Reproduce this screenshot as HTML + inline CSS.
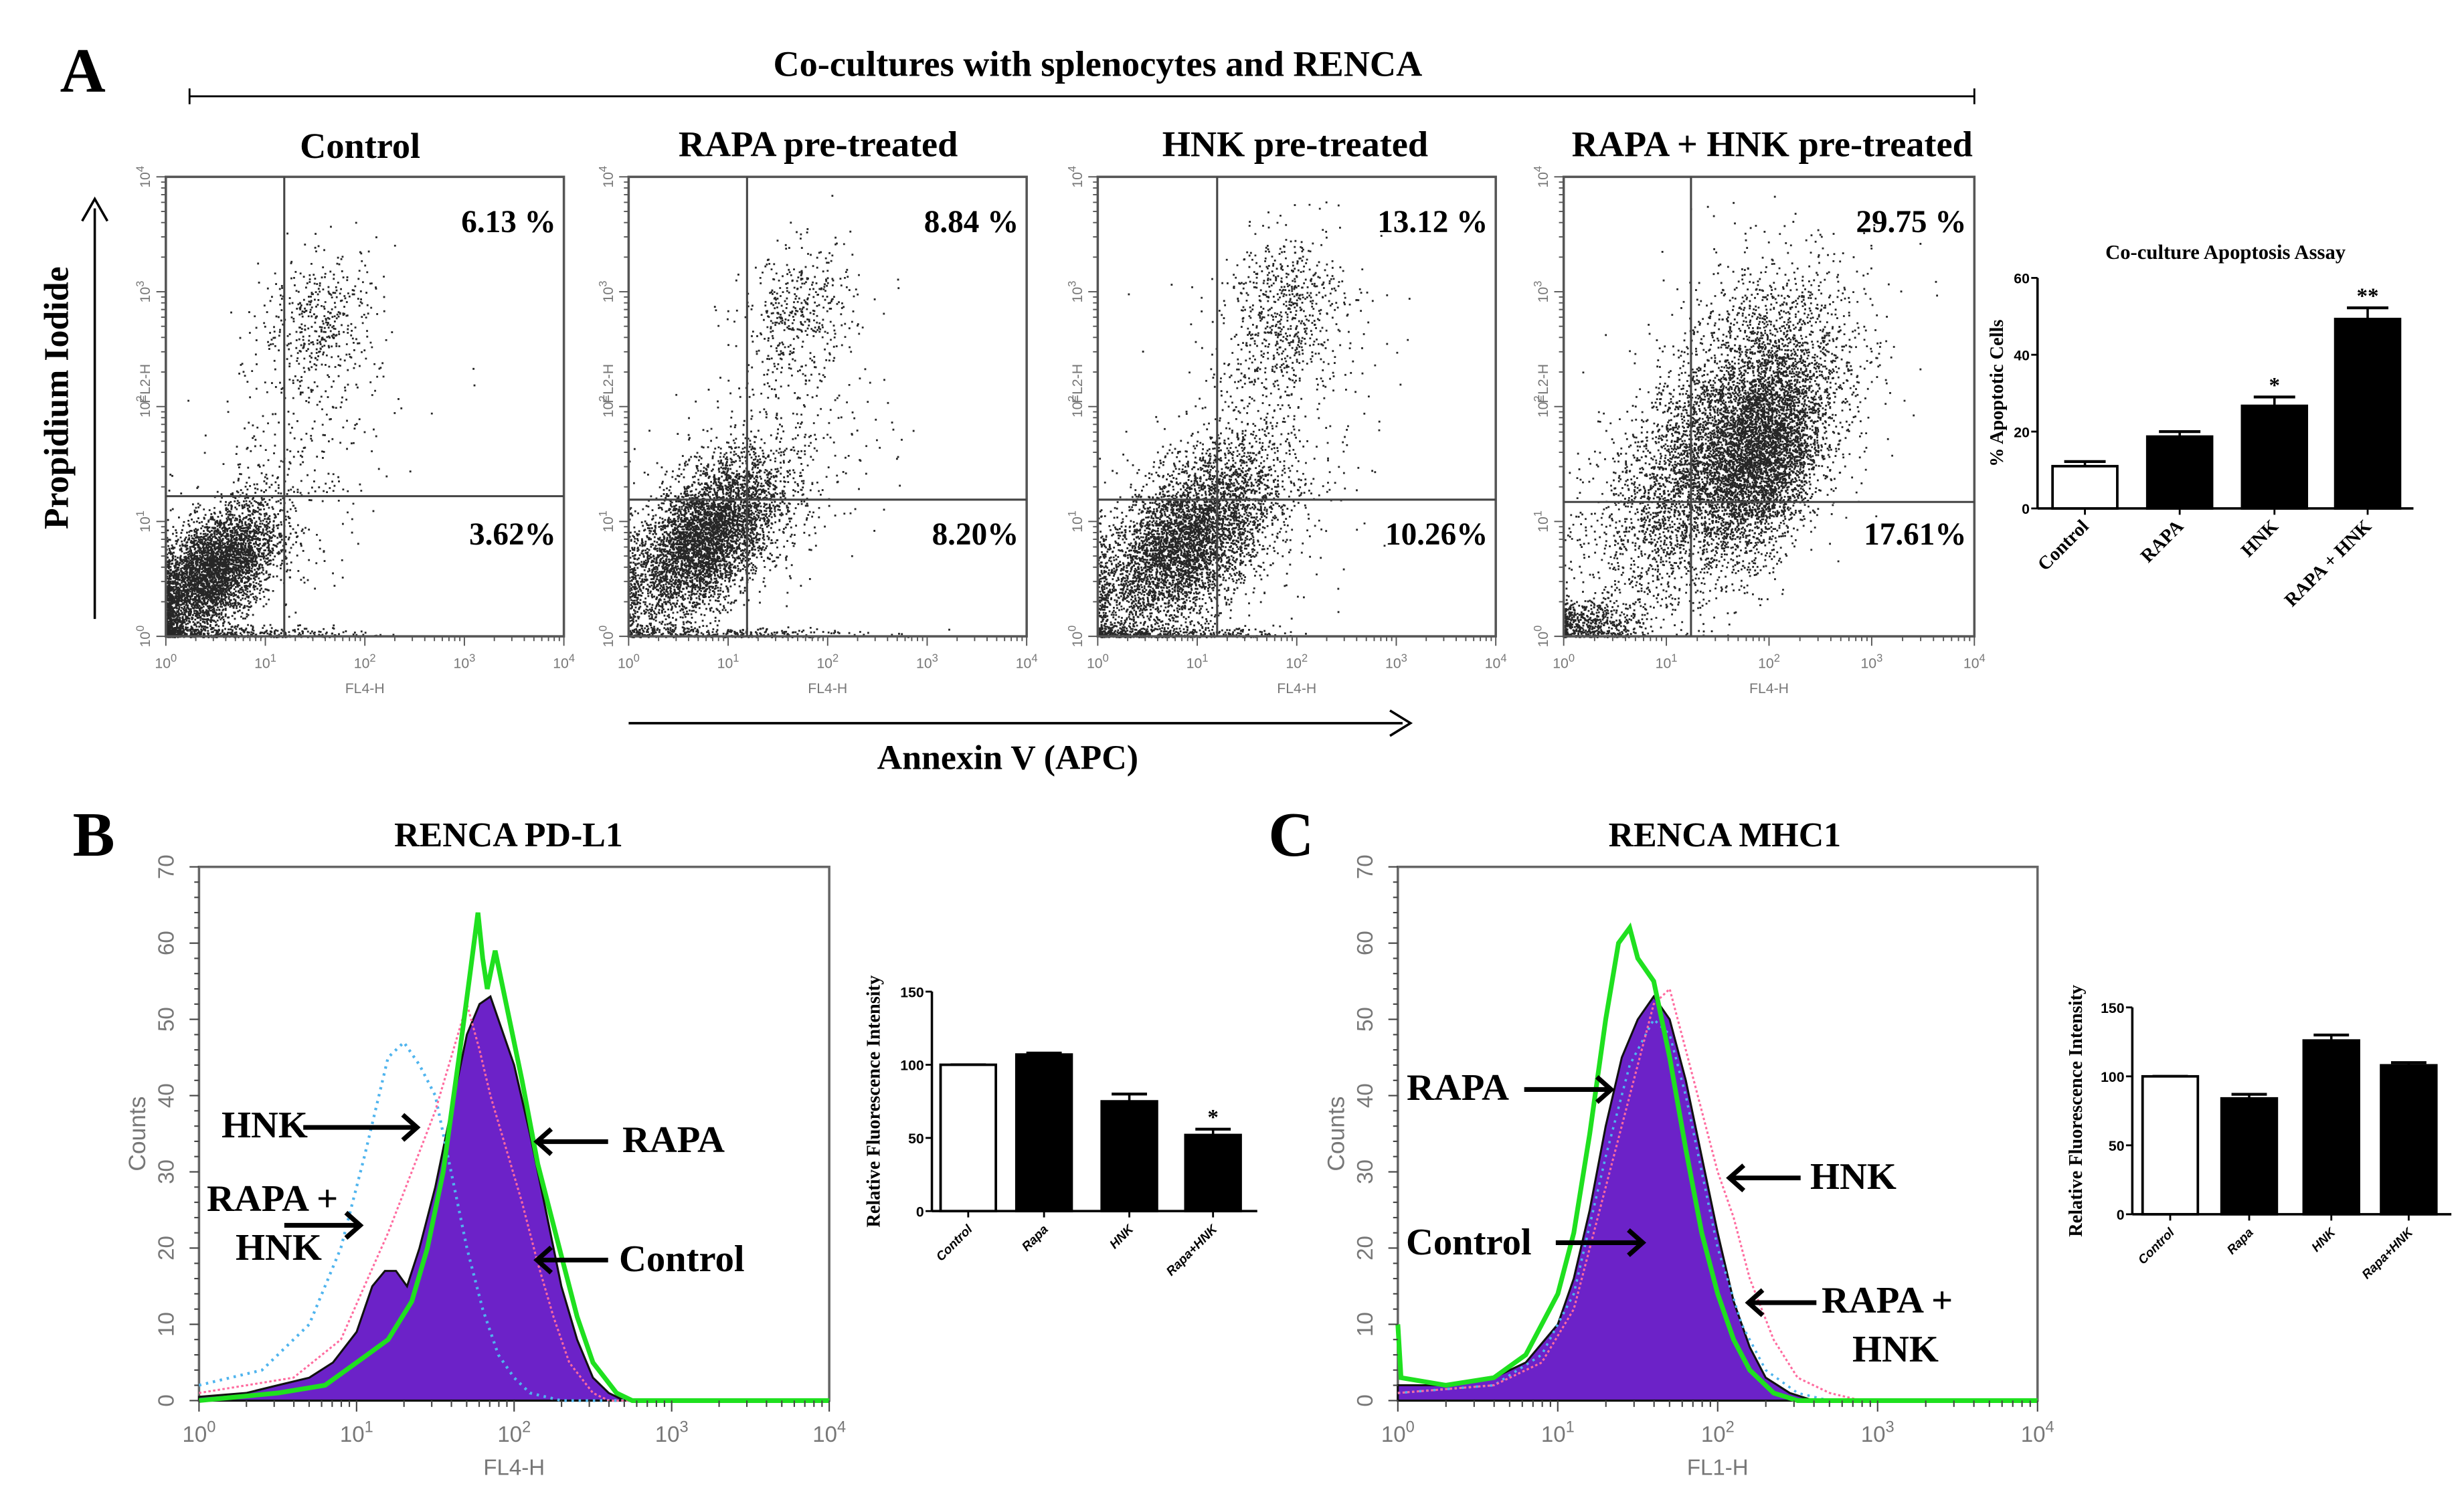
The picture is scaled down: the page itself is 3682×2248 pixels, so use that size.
<!DOCTYPE html>
<html><head><meta charset="utf-8">
<style>
html,body{margin:0;padding:0;background:#fff;}
svg{display:block;}
.serif{font-family:"Liberation Serif",serif;font-weight:bold;}
.sans{font-family:"Liberation Sans",sans-serif;}
.gray{fill:#777;}
</style></head>
<body>
<svg id="fig" width="3682" height="2248" viewBox="0 0 1560 952.5" preserveAspectRatio="none" xmlns="http://www.w3.org/2000/svg">
<rect width="1560" height="952.5" fill="#fff"/>
<text class="serif" x="38" y="58" font-size="40">A</text>
<text class="serif" x="695" y="48" font-size="23" text-anchor="middle">Co-cultures with splenocytes and RENCA</text>
<g stroke="#000" stroke-width="1.2">
<line x1="120" y1="61" x2="1250" y2="61"/><line x1="120" y1="56" x2="120" y2="66"/><line x1="1250" y1="56" x2="1250" y2="66"/>
</g>
<text class="serif" x="228" y="100" font-size="23" text-anchor="middle">Control</text>
<text class="serif" x="518" y="99" font-size="23" text-anchor="middle">RAPA pre-treated</text>
<text class="serif" x="820" y="99" font-size="23" text-anchor="middle">HNK pre-treated</text>
<text class="serif" x="1122" y="99" font-size="23" text-anchor="middle">RAPA + HNK pre-treated</text>
<text class="serif" x="43" y="252" font-size="22" text-anchor="middle" transform="rotate(-90 43 252)">Propidium Iodide</text>
<g><line x1="60" y1="392" x2="60" y2="132" stroke="#000" stroke-width="1.5"/><path d="M52 140 L60 126 L68 140" fill="none" stroke="#000" stroke-width="1.5"/></g>
<g><line x1="398" y1="458" x2="888" y2="458" stroke="#000" stroke-width="1.5"/><path d="M880 450 L893 458 L880 466" fill="none" stroke="#000" stroke-width="1.5"/></g>
<text class="serif" x="638" y="487" font-size="22" text-anchor="middle">Annexin V (APC)</text>
<g id="dotplots"></g>
<g id="barA"></g>
<text class="serif" x="46" y="542" font-size="40">B</text>
<text class="serif" x="322" y="536" font-size="22" text-anchor="middle">RENCA PD-L1</text>
<g id="histB"></g>
<g id="barB"></g>
<text class="serif" x="803" y="542" font-size="40">C</text>
<text class="serif" x="1092" y="536" font-size="22" text-anchor="middle">RENCA MHC1</text>
<g id="histC"></g>
<g id="barC"></g>
</svg>
<script>
// ===== Data =====
const dotPanels = ["control","rapa","hnk","rapa-hnk"];
const dotFrameX = [105, 398, 695, 990];
const dotQuadX = [1.19, 1.19, 1.2, 1.24];
const dotQuadY = [1.22, 1.19, 1.19, 1.17];
const dotUpperPct = ["6.13 %","8.84 %","13.12 %","29.75 %"];
const dotLowerPct = ["3.62%","8.20%","10.26%","17.61%"];
// clusters: [cx, cy, sx, sy, n, rho] in log10 units
const clustersControl = [[0.45,0.55,0.33,0.3,4200,0.55],[1.55,2.75,0.3,0.3,420,0.2],[1.3,1.5,0.5,0.6,300,0.3],[0.8,0.03,0.6,0.03,300,0]];
const clustersRapa = [[0.75,0.85,0.38,0.36,4600,0.55],[1.7,2.8,0.28,0.3,420,0.2],[1.5,1.5,0.55,0.6,350,0.3],[0.9,0.03,0.7,0.03,250,0]];
const clustersHnk = [[0.85,0.8,0.45,0.4,4600,0.55],[1.85,2.85,0.3,0.35,600,0.2],[1.6,1.6,0.55,0.7,550,0.4],[0.6,0.03,0.6,0.03,300,0]];
const clustersRapaHnk = [[1.55,1.6,0.58,0.62,5000,0.6],[1.95,1.55,0.28,0.42,2600,0.3],[0.25,0.12,0.25,0.1,500,0],[1.9,2.6,0.45,0.45,500,0.2]];
const allClusters = [clustersControl, clustersRapa, clustersHnk, clustersRapaHnk];

const barACats = ["Control","RAPA","HNK","RAPA + HNK"];
const barAVals = [11, 18.7, 26.7, 49.3];
const barAErr = [12.2, 20.0, 29.0, 52.2];
const barAStars = ["","","*","**"];
const barATicks = [0,20,40,60];

const barBCats = ["Control","Rapa","HNK","Rapa+HNK"];
const barBVals = [100, 107, 75, 52];
const barBErr = [100, 108, 80, 56];
const barBStars = ["","","","*"];
const barCCats = ["Control","Rapa","HNK","Rapa+HNK"];
const barCVals = [100, 84, 126, 108];
const barCErr = [100, 87, 130, 110];
const barTicks150 = [0,50,100,150];

const histTicksY = [0,10,20,30,40,50,60,70];
const histBControl = [[0,0.5],[0.3,1],[0.5,2],[0.7,3],[0.85,5],[1.0,9],[1.1,15],[1.18,17],[1.25,17],[1.32,15],[1.4,20],[1.5,28],[1.6,38],[1.7,48],[1.78,52],[1.85,53],[1.9,50],[2.0,44],[2.1,35],[2.2,25],[2.3,15],[2.4,8],[2.5,3],[2.6,1],[2.7,0],[4,0]];
const histBRapa = [[0,0],[0.5,1],[0.8,2],[1.0,5],[1.2,8],[1.35,13],[1.45,20],[1.55,30],[1.65,45],[1.72,56],[1.77,64],[1.8,58],[1.83,54],[1.88,59],[1.95,52],[2.05,42],[2.15,31],[2.3,19],[2.4,11],[2.5,5],[2.65,1],[2.75,0],[4,0]];
const histBHnk = [[0,1],[0.6,3],[0.9,8],[1.05,15],[1.2,22],[1.35,30],[1.5,38],[1.6,45],[1.7,52],[1.78,46],[1.85,40],[1.95,33],[2.05,26],[2.15,18],[2.25,11],[2.35,5],[2.5,1],[2.6,0],[4,0]];
const histBRapaHnk = [[0,2],[0.4,4],[0.7,10],[0.9,20],[1.05,32],[1.2,45],[1.3,47],[1.4,44],[1.5,40],[1.6,30],[1.7,20],[1.8,12],[1.9,6],[2.0,3],[2.1,1],[2.3,0],[4,0]];
const histCControl = [[0,2],[0.3,2],[0.6,3],[0.8,5],[1.0,10],[1.1,16],[1.2,25],[1.3,36],[1.4,45],[1.5,50],[1.6,53],[1.7,50],[1.8,42],[1.9,32],[2.0,22],[2.1,13],[2.2,7],[2.3,3],[2.45,1],[2.6,0],[4,0]];
const histCRapa = [[0,10],[0.02,3],[0.3,2],[0.6,3],[0.8,6],[1.0,14],[1.1,22],[1.2,35],[1.3,50],[1.38,60],[1.45,62],[1.5,58],[1.6,55],[1.7,45],[1.8,33],[1.9,22],[2.0,14],[2.1,8],[2.2,4],[2.35,1],[2.5,0],[4,0]];
const histCHnk = [[0,1],[0.6,2],[0.9,5],[1.1,12],[1.3,28],[1.45,40],[1.6,52],[1.7,54],[1.8,46],[1.9,38],[2.0,30],[2.1,24],[2.2,16],[2.35,8],[2.5,3],[2.7,1],[2.9,0],[4,0]];
const histCRapaHnk = [[0,1],[0.6,2],[0.9,6],[1.1,14],[1.3,32],[1.45,44],[1.6,50],[1.7,48],[1.8,40],[1.9,30],[2.0,20],[2.15,10],[2.3,4],[2.5,1],[2.7,0],[4,0]];

// ===== Helpers =====
const NS = "http://www.w3.org/2000/svg";
function mk(parent, tag, attrs){const e=document.createElementNS(NS,tag);for(const k in attrs)e.setAttribute(k,attrs[k]);parent.appendChild(e);return e;}
let seed = 12345;
function rnd(){seed=(seed*1103515245+12345)%2147483648;return seed/2147483648;}
function gauss(){let u=rnd()||1e-9,v=rnd();return Math.sqrt(-2*Math.log(u))*Math.cos(2*Math.PI*v);}

// ===== Dot plots =====
const dp = document.getElementById('dotplots');
dotPanels.forEach((name,i)=>{
  const x0=dotFrameX[i], y0=112, w=(i==3?260:252), h=291;
  const xs=v=>x0+v/4*w, ys=v=>y0+h-v/4*h;
  const g=mk(dp,'g',{});
  
  
  const pts=mk(g,'g',{fill:'#000'});
  
  
  let d='';
  allClusters[i].forEach(c=>{
    for(let k=0;k<c[4];k++){
      const a=gauss(),b=gauss();
      let lx=c[0]+c[2]*a, ly=c[1]+c[3]*(c[5]*a+Math.sqrt(1-c[5]*c[5])*b);
      if(lx<0)lx=Math.abs(lx)*0.3; if(ly<0)ly=Math.abs(ly)*0.3;
      if(lx>4||ly>4)continue;
      const px=xs(lx),py=ys(ly);
      d+=`M${px.toFixed(1)} ${py.toFixed(1)}h1.2v1.2h-1.2z`;
    }
  });
  mk(pts,'path',{d:d,fill:'#000','fill-opacity':'0.85'});
  const fr=mk(g,'rect',{x:x0,y:y0,width:w,height:h,fill:'none',stroke:'#555','stroke-width':1.5});
  
  
  mk(g,'line',{x1:xs(dotQuadX[i]),y1:y0,x2:xs(dotQuadX[i]),y2:y0+h,stroke:'#444','stroke-width':1.3});
  mk(g,'line',{x1:x0,y1:ys(dotQuadY[i]),x2:x0+w,y2:ys(dotQuadY[i]),stroke:'#444','stroke-width':1.3});
  let td='';
  for(let dec=0;dec<4;dec++)for(let m=1;m<=10;m++){const v=dec+Math.log10(m);const L=(m==1||m==10)?6:3;
    td+=`M${xs(v)} ${y0+h}v${L}M${x0} ${ys(v)}h${-L}`;}
  mk(g,'path',{d:td,stroke:'#555','stroke-width':0.8,fill:'none'});
  for(let dec=0;dec<=4;dec++){
    const t=mk(g,'text',{x:xs(dec),y:y0+h+20,'font-size':9,'text-anchor':'middle',class:'sans gray'});
    t.textContent='10';const s=mk(t,'tspan',{dy:-4,'font-size':7});s.textContent=dec;
    const ty=ys(dec), tx=x0-10;
    const t2=mk(g,'text',{x:tx,y:ty,'font-size':9,'text-anchor':'middle',class:'sans gray',transform:`rotate(-90 ${tx} ${ty})`});
    t2.textContent='10';const s2=mk(t2,'tspan',{dy:-4,'font-size':7});s2.textContent=dec;
  }
  const fx=mk(g,'text',{x:xs(2),y:y0+h+36,'font-size':9,'text-anchor':'middle',class:'sans gray'});fx.textContent='FL4-H';
  const fy=mk(g,'text',{x:x0-10,y:ys(2.2),'font-size':9,'text-anchor':'middle',class:'sans gray',transform:`rotate(-90 ${x0-10} ${ys(2.2)})`});fy.textContent='FL2-H';
  const up=mk(g,'text',{x:x0+w-5,y:y0+35,'font-size':20,'text-anchor':'end',class:'serif'});up.textContent=dotUpperPct[i];
  
  
  const lo=mk(g,'text',{x:x0+w-5,y:y0+233,'font-size':20,'text-anchor':'end',class:'serif'});lo.textContent=dotLowerPct[i];
  
  
});

// ===== Bar charts =====
function barChart(gid, cats, vals, errs, stars, ticks, ax, x1, y0, yTop, ymax, bw, centers, title, ylabel, ylx, italic, labFont){
  const g=document.getElementById(gid);
  const ys=v=>y0-(v/ymax)*(y0-yTop);
  if(title){const t=mk(g,'text',{x:(ax+x1)/2,y:yTop-12,'font-size':13,'text-anchor':'middle',class:'serif'});t.textContent=title;
    }
  const yl=mk(g,'text',{x:ylx,y:(y0+yTop)/2,'font-size':labFont,'text-anchor':'middle',class:'serif',transform:`rotate(-90 ${ylx} ${(y0+yTop)/2})`});
  yl.textContent=ylabel;
  
  
  mk(g,'line',{x1:ax,y1:yTop,x2:ax,y2:y0,stroke:'#000','stroke-width':1.5});
  mk(g,'line',{x1:ax,y1:y0,x2:x1,y2:y0,stroke:'#000','stroke-width':1.5});
  ticks.forEach(t=>{mk(g,'line',{x1:ax-4,y1:ys(t),x2:ax,y2:ys(t),stroke:'#000','stroke-width':1.2});
    const tx=mk(g,'text',{x:ax-5,y:ys(t)+3.5,'font-size':9,'font-weight':'bold','text-anchor':'end',class:'sans'});tx.textContent=t;});
  cats.forEach((c,i)=>{
    const cx=centers[i];
    mk(g,'line',{x1:cx,y1:ys(errs[i]),x2:cx,y2:ys(vals[i]),stroke:'#000','stroke-width':1.5});
    mk(g,'line',{x1:cx-bw*0.32,y1:ys(errs[i]),x2:cx+bw*0.32,y2:ys(errs[i]),stroke:'#000','stroke-width':1.8});
    const r=mk(g,'rect',{x:cx-bw/2,y:ys(vals[i]),width:bw,height:y0-ys(vals[i]),fill:i==0?'#fff':'#000',stroke:'#000','stroke-width':1.6});
    
    
    mk(g,'line',{x1:cx,y1:y0,x2:cx,y2:y0+4,stroke:'#000','stroke-width':1.2});
    if(stars[i]){const s=mk(g,'text',{x:cx,y:ys(errs[i])-3,'font-size':14,'text-anchor':'middle',class:'serif'});s.textContent=stars[i];}
    const lx=cx+3, ly=y0+12;
    const l=mk(g,'text',{x:lx,y:ly,'font-size':italic?8:12,'text-anchor':'end',class:italic?'sans':'serif','font-weight':'bold','font-style':italic?'italic':'normal',transform:`rotate(-45 ${lx} ${ly})`});
    l.textContent=c;
    
    
  });
}
barChart('barA',barACats,barAVals,barAErr,barAStars,barATicks,1290,1528,322,176,60,41,[1320,1380,1440,1499],'Co-culture Apoptosis Assay','% Apoptotic Cells',1268,false,12);
barChart('barB',barBCats,barBVals,barBErr,barBStars,barTicks150,590,796,767,628,150,35,[613,661,715,768],null,'Relative Fluorescence Intensity',557,true,12);
barChart('barC',barCCats,barCVals,barCErr,barCErr.map(()=>''),barTicks150,1350,1552,769,638,150,35,[1374,1424,1476,1525],null,'Relative Fluorescence Intensity',1318,true,12);

// ===== Histograms =====
function hist(gid, x0, x1, fl, series){
  const g=document.getElementById(gid);
  const y0=887, yT=549;
  const xs=v=>x0+v/4*(x1-x0), ys=v=>y0-v/70*(y0-yT);
  const fr=mk(g,'rect',{x:x0,y:yT,width:x1-x0,height:y0-yT,fill:'none',stroke:'#666','stroke-width':1.5});
  
  
  const pathOf=arr=>arr.map((p,i)=>(i?'L':'M')+xs(p[0]).toFixed(1)+' '+ys(p[1]).toFixed(1)).join('');
  series.forEach(s=>{
    const d=pathOf(s.data);
    let e;
    if(s.fill){e=mk(g,'path',{d:d+`L${xs(4)} ${y0}L${xs(0)} ${y0}Z`,fill:'#6c22c8',stroke:'#111','stroke-width':1.3});}
    else e=mk(g,'path',{d:d,fill:'none',stroke:s.color,'stroke-width':s.w,'stroke-dasharray':s.dash||'none'});
    
    
  });
  let td='';
  for(let dec=0;dec<4;dec++)for(let m=1;m<=10;m++){const v=dec+Math.log10(m);td+=`M${xs(v)} ${y0}v${(m==1||m==10)?7:4}`;}
  for(let c=0;c<=70;c+=2)td+=`M${x0} ${ys(c)}h${c%10==0?-6:-3}`;
  mk(g,'path',{d:td,stroke:'#444','stroke-width':0.9,fill:'none'});
  for(let dec=0;dec<=4;dec++){const t=mk(g,'text',{x:xs(dec),y:y0+26,'font-size':14,'text-anchor':'middle',class:'sans gray'});
    t.textContent='10';const s=mk(t,'tspan',{dy:-6,'font-size':10});s.textContent=dec;}
  histTicksY.forEach(c=>{const tx=x0-16,ty=ys(c);const t=mk(g,'text',{x:tx,y:ty,'font-size':14,'text-anchor':'middle',class:'sans gray',transform:`rotate(-90 ${tx} ${ty})`});t.textContent=c;});
  const fx=mk(g,'text',{x:xs(2),y:y0+47,'font-size':14,'text-anchor':'middle',class:'sans gray'});fx.textContent=fl;
  const cy=ys(35);const fy=mk(g,'text',{x:x0-34,y:cy,'font-size':15,'text-anchor':'middle',class:'sans gray',transform:`rotate(-90 ${x0-34} ${cy})`});fy.textContent='Counts';
}
hist('histB',126,525,'FL4-H',[
 {name:'control',data:histBControl,fill:true},
 {name:'rapa-hnk',data:histBRapaHnk,color:'#4fb4ee',w:1.8,dash:'1.5 3'},
 {name:'hnk',data:histBHnk,color:'#ff6b9f',w:1.3,dash:'1.5 1.5'},
 {name:'rapa',data:histBRapa,color:'#1fe01f',w:3}]);
hist('histC',885,1290,'FL1-H',[
 {name:'control',data:histCControl,fill:true},
 {name:'rapa-hnk',data:histCRapaHnk,color:'#4fb4ee',w:1.5,dash:'1.5 3'},
 {name:'hnk',data:histCHnk,color:'#ff6b9f',w:1.3,dash:'1.5 1.5'},
 {name:'rapa',data:histCRapa,color:'#1fe01f',w:3}]);

function arrow(g,xa,ya,xb,name){
  const e=mk(g,'g',{});
  
  
  mk(e,'line',{x1:xa,y1:ya,x2:xb,y2:ya,stroke:'#000','stroke-width':3});
  const dir=xb>xa?1:-1;
  mk(e,'path',{d:`M${xb-dir*9} ${ya-8}L${xb} ${ya}L${xb-dir*9} ${ya+8}`,fill:'none',stroke:'#000','stroke-width':3});
}
const ann=mk(document.getElementById('fig'),'g',{});


arrow(ann,192,714,264,'arrow-b-hnk');
arrow(ann,385,723,340,'arrow-b-rapa');
arrow(ann,180,776,228,'arrow-b-rapa-hnk');
arrow(ann,385,798,340,'arrow-b-control');
arrow(ann,965,690,1020,'arrow-c-rapa');
arrow(ann,985,787,1040,'arrow-c-control');
arrow(ann,1140,746,1095,'arrow-c-hnk');
arrow(ann,1150,825,1107,'arrow-c-rapa-hnk');
</script>
<div style="position:absolute;left:0;top:0;width:3682px;height:2248px;pointer-events:none;font-family:'Liberation Serif',serif;font-weight:bold;font-size:56.6px;">
<span style="position:absolute;left:331px;top:1650px;">HNK</span>
<span style="position:absolute;left:930px;top:1672px;">RAPA</span>
<span style="position:absolute;left:309px;top:1760px;">RAPA +</span>
<span style="position:absolute;left:352px;top:1833px;">HNK</span>
<span style="position:absolute;left:925px;top:1850px;">Control</span>
<span style="position:absolute;left:2102px;top:1594px;">RAPA</span>
<span style="position:absolute;left:2101px;top:1825px;">Control</span>
<span style="position:absolute;left:2705px;top:1727px;">HNK</span>
<span style="position:absolute;left:2722px;top:1912px;">RAPA +</span>
<span style="position:absolute;left:2768px;top:1985px;">HNK</span>
</div>
</body></html>
